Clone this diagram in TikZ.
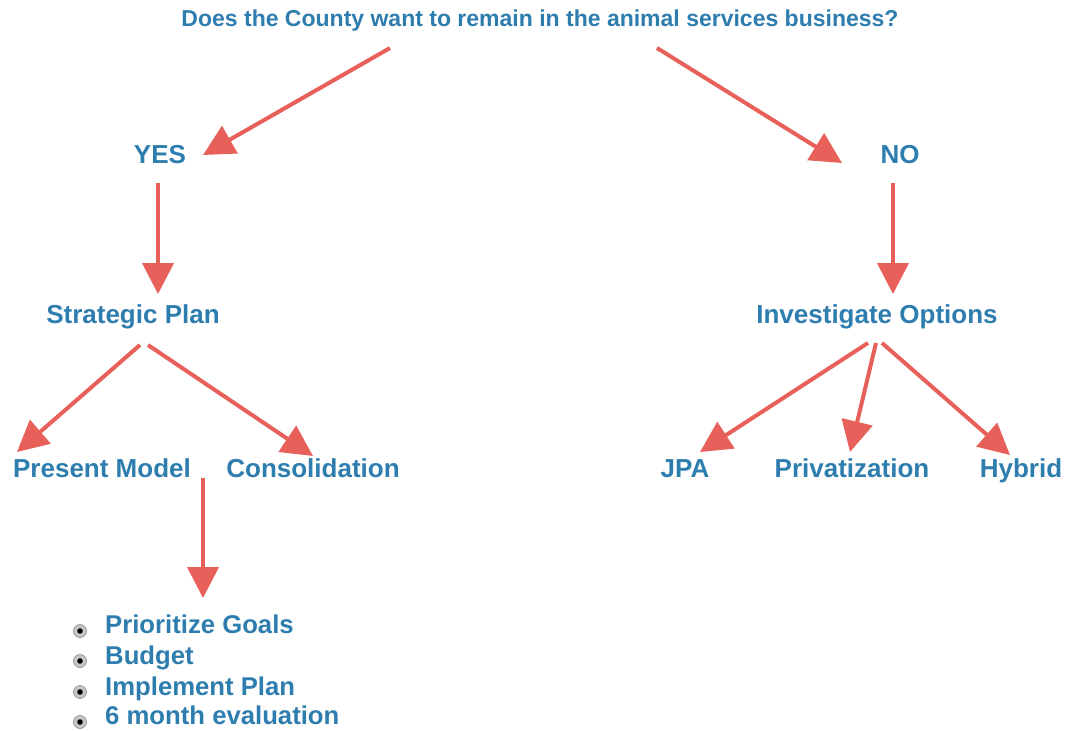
\documentclass[tikz,border=0pt]{standalone}
\usepackage{fontspec}
\setmainfont{Liberation Sans}
\usetikzlibrary{arrows.meta}
\definecolor{txtblue}{HTML}{2E7DAF}
\definecolor{arrred}{HTML}{E8605A}
\begin{document}
\begin{tikzpicture}[x=1pt,y=-1pt,
  lbl/.style={text=txtblue,font=\bfseries\fontsize{26}{30}\selectfont,inner sep=0pt,anchor=center,text height=19pt,text depth=6pt},
  ttl/.style={text=txtblue,font=\bfseries\fontsize{23}{27}\selectfont,inner sep=0pt,anchor=center,text height=17pt,text depth=5pt},
  blt/.style={text=txtblue,font=\bfseries\fontsize{25.7}{30}\selectfont,inner sep=0pt,anchor=west,text height=19pt,text depth=6pt},
  dot/.style={circle,draw=gray!80,fill=gray!45,line width=0.8pt,minimum size=13pt,inner sep=0pt},
  arr/.style={draw=arrred,line width=4pt,-{Triangle[length=31pt,width=31pt]}}]
\useasboundingbox (0,0) rectangle (1066,731);
\node[ttl] (title) at (540,20) {Does the County want to remain in the animal services business?};
\node[lbl] (yes) at (160,157) {YES};
\node[lbl] (no) at (900,157) {NO};
\node[lbl] (sp) at (133,317) {Strategic Plan};
\node[lbl] (io) at (877,317) {Investigate Options};
\node[lbl] (pm) at (102,471) {Present Model};
\node[lbl] (co) at (313,471) {Consolidation};
\node[lbl] (jpa) at (685,471) {JPA};
\node[lbl] (pr) at (852,471) {Privatization};
\node[lbl] (hy) at (1021,471) {Hybrid};
\node[blt] (b1) at (105,627) {Prioritize Goals};
\node[blt] (b2) at (105,658) {Budget};
\node[blt] (b3) at (105,689) {Implement Plan};
\node[blt] (b4) at (105,718) {6 month evaluation};
\foreach \b/\y in {d1/631,d2/661,d3/692,d4/722}{
  \node[dot] (\b) at (80,\y) {};
  \fill (80,\y) circle (2.8pt);
}
\coordinate (t1) at (390,48);
\coordinate (t2) at (657,48);
\coordinate (yesin) at (203,155);
\coordinate (noin) at (842,163);
\coordinate (yesout) at (158,183);
\coordinate (spin) at (158,294);
\coordinate (noout) at (893,183);
\coordinate (ioin) at (893,294);
\coordinate (sp1) at (140,345);
\coordinate (sp2) at (148,345);
\coordinate (pmin) at (17,452);
\coordinate (coin) at (313,456);
\coordinate (pmout) at (203,478);
\coordinate (bin) at (203,598);
\coordinate (io1) at (868,343);
\coordinate (io2) at (876,343);
\coordinate (io3) at (882,343);
\coordinate (jpain) at (700,452);
\coordinate (prin) at (850,452);
\coordinate (hyin) at (1010,455);
\draw[arr] (t1) -- (yesin);
\draw[arr] (t2) -- (noin);
\draw[arr] (yesout) -- (spin);
\draw[arr] (noout) -- (ioin);
\draw[arr] (sp1) -- (pmin);
\draw[arr] (sp2) -- (coin);
\draw[arr] (pmout) -- (bin);
\draw[arr] (io1) -- (jpain);
\draw[arr] (io2) -- (prin);
\draw[arr] (io3) -- (hyin);
\end{tikzpicture}
\end{document}
